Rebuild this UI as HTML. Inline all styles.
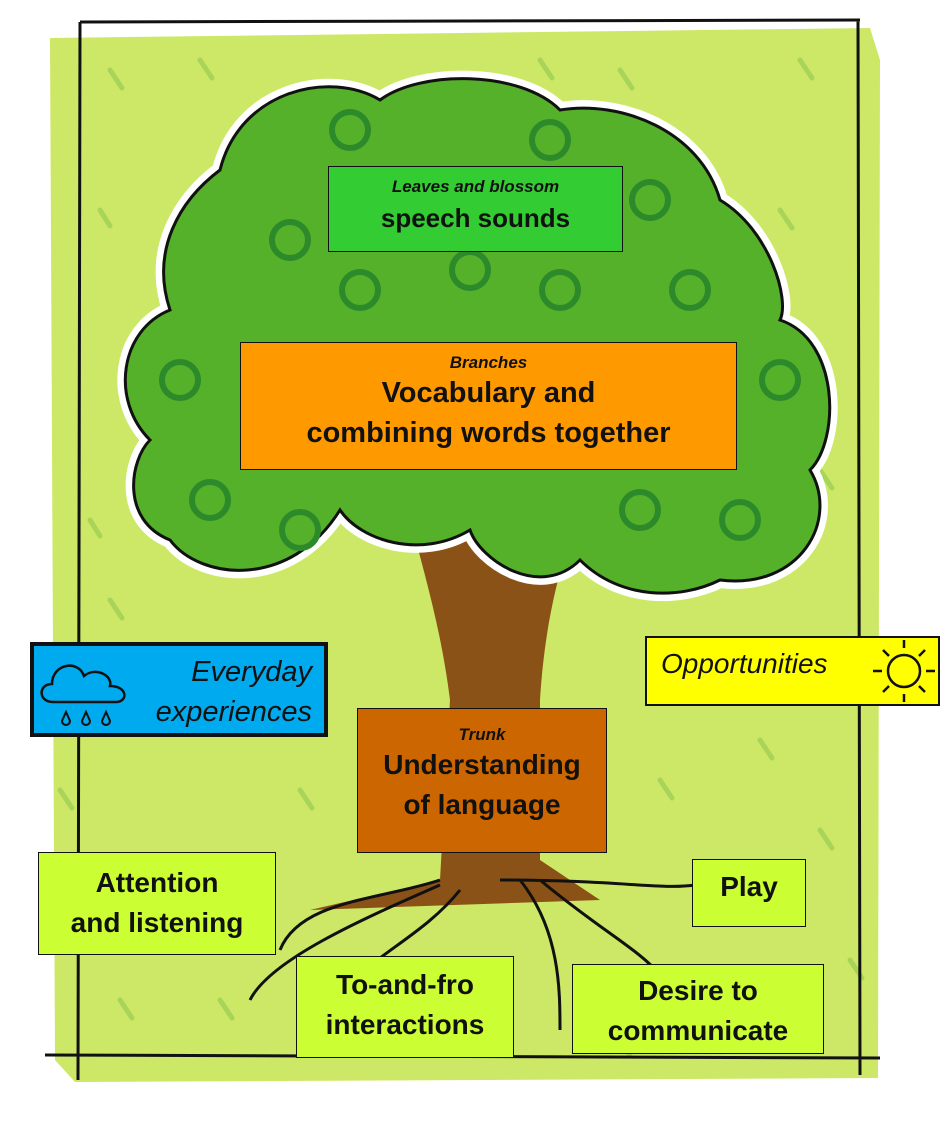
<!DOCTYPE html>
<html><head><meta charset="utf-8"><style>
body{margin:0;background:#fff;width:952px;height:1123px;overflow:hidden;font-family:"Liberation Sans",sans-serif}
.b{position:absolute;border:1.5px solid #111;box-sizing:border-box;text-align:center;font-weight:bold;color:#111}
</style></head><body>
<svg width="952" height="1123" style="position:absolute;left:0;top:0">
<path d="M50 38 L870 28 L880 60 L878 1078 L75 1082 L55 1060 Z" fill="#cde866"/>
<g stroke="#a9d45a" stroke-width="5" stroke-linecap="round">
<path d="M110 70l12 18M200 60l12 18M540 60l12 18M620 70l12 18M800 60l12 18M100 210l10 16M780 210l12 18M820 470l12 18M90 520l10 16M110 600l12 18M60 790l12 18M300 790l12 18M660 780l12 18M760 740l12 18M820 830l12 18M120 1000l12 18M220 1000l12 18M850 960l12 18M620 1040l10 16"/>
</g>
<path d="M80 22 L860 20 M80 22 L78 1080 M858 20 L860 1075 M45 1055 L880 1058" stroke="#111" stroke-width="3" fill="none"/>
<path d="M400 480 C420 560 440 620 450 700 L440 880 L310 910 L600 900 L540 860 L540 700 C545 620 560 560 590 480 Z" fill="#8b5218"/>
<path d="M440 880 C380 900 300 900 280 950 M460 890 C420 940 360 960 340 1000 M520 880 C560 930 560 990 560 1030 M500 880 C620 880 660 890 695 885 M540 880 C600 930 640 950 660 975 M440 885 C360 920 270 960 250 1000" stroke="#111" stroke-width="3" fill="none"/>
<path d="M220 170 C240 90 330 70 380 100 C420 70 520 70 560 110 C620 100 700 130 720 200 C770 230 790 300 780 320 C840 340 840 440 810 470 C840 520 800 590 720 580 C680 600 620 600 580 560 C540 600 480 560 470 530 C420 560 360 540 340 510 C290 590 200 580 170 540 C120 520 130 460 150 440 C110 400 120 330 170 310 C150 250 180 200 220 170 Z" fill="#55b02a" stroke="#fff" stroke-width="16"/>
<path d="M220 170 C240 90 330 70 380 100 C420 70 520 70 560 110 C620 100 700 130 720 200 C770 230 790 300 780 320 C840 340 840 440 810 470 C840 520 800 590 720 580 C680 600 620 600 580 560 C540 600 480 560 470 530 C420 560 360 540 340 510 C290 590 200 580 170 540 C120 520 130 460 150 440 C110 400 120 330 170 310 C150 250 180 200 220 170 Z" fill="#55b02a" stroke="#111" stroke-width="3"/>
<g stroke="#2d8a2a" stroke-width="6" fill="none">
<circle cx="290" cy="240" r="18"/><circle cx="360" cy="290" r="18"/><circle cx="470" cy="270" r="18"/><circle cx="560" cy="290" r="18"/><circle cx="650" cy="200" r="18"/><circle cx="690" cy="290" r="18"/><circle cx="180" cy="380" r="18"/><circle cx="780" cy="380" r="18"/><circle cx="210" cy="500" r="18"/><circle cx="300" cy="530" r="18"/><circle cx="640" cy="510" r="18"/><circle cx="740" cy="520" r="18"/><circle cx="350" cy="130" r="18"/><circle cx="550" cy="140" r="18"/>
</g>
</svg>
<div class="b" style="left:328px;top:166px;width:295px;height:86px;background:#33cc33;padding-top:10px"><div style="font-size:17px;font-style:italic">Leaves and blossom</div><div style="font-size:26px;margin-top:6px">speech sounds</div></div>
<div class="b" style="left:240px;top:342px;width:497px;height:128px;background:#ff9900;padding-top:10px"><div style="font-size:17px;font-style:italic">Branches</div><div style="font-size:29px;line-height:40px">Vocabulary and<br>combining words together</div></div>
<div class="b" style="left:30px;top:642px;width:298px;height:95px;background:#00aaee;border:4px solid #111;text-align:right;padding:6px 12px 0 0;font-weight:normal;font-style:italic;font-size:29px;line-height:40px">Everyday<br>experiences
<svg width="100" height="80" style="position:absolute;left:4px;top:8px"><path d="M15 48 C0 48 0 30 14 30 C14 10 40 5 46 22 C58 12 75 22 72 32 C90 32 90 48 78 48 Z" fill="none" stroke="#111" stroke-width="2.5"/><path d="M28 58 l-4 9 a4 4 0 0 0 8 0 Z M48 58 l-4 9 a4 4 0 0 0 8 0 Z M68 58 l-4 9 a4 4 0 0 0 8 0 Z" fill="none" stroke="#111" stroke-width="2"/></svg></div>
<div class="b" style="left:645px;top:636px;width:295px;height:70px;background:#ffff00;border:2.5px solid #111;text-align:left;padding:10px 0 0 14px;font-weight:normal;font-style:italic;font-size:28px">Opportunities
<svg width="70" height="66" style="position:absolute;left:222px;top:0"><circle cx="35" cy="33" r="16" fill="none" stroke="#111" stroke-width="2.5"/><path d="M35 2v8M35 56v8M4 33h9M57 33h9M14 12l6 6M50 48l6 6M56 12l-6 6M14 54l6 -6" stroke="#111" stroke-width="2.5"/></svg></div>
<div class="b" style="left:357px;top:708px;width:250px;height:145px;background:#cc6600;padding-top:16px"><div style="font-size:17px;font-style:italic">Trunk</div><div style="font-size:28px;line-height:40px">Understanding<br>of language</div></div>
<div class="b" style="left:38px;top:852px;width:238px;height:103px;background:#ccff33;padding-top:10px;font-size:28px;line-height:40px">Attention<br>and listening</div>
<div class="b" style="left:296px;top:956px;width:218px;height:102px;background:#ccff33;padding-top:8px;font-size:28px;line-height:40px">To-and-fro<br>interactions</div>
<div class="b" style="left:692px;top:859px;width:114px;height:68px;background:#ccff33;padding-top:11px;font-size:28px">Play</div>
<div class="b" style="left:572px;top:964px;width:252px;height:90px;background:#ccff33;padding-top:6px;font-size:28px;line-height:40px">Desire to<br>communicate</div>
</body></html>
